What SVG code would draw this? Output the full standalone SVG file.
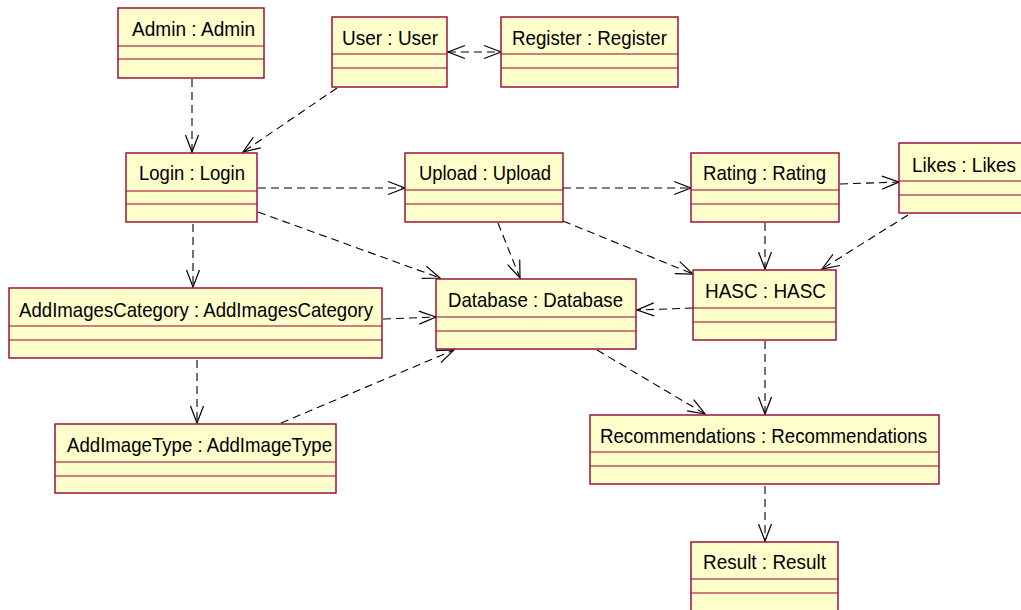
<svg xmlns="http://www.w3.org/2000/svg" width="1021" height="610" viewBox="0 0 1021 610">
<style>
.box{fill:#FFFFCC;stroke:#990033;stroke-width:1.4}
.div{stroke:#990033;stroke-width:1.2}
.t{font-family:"Liberation Sans",Arial,sans-serif;font-size:21px;fill:#000}
.c{fill:none;stroke:#000;stroke-width:1.1;stroke-dasharray:8 5}
</style>
<defs>
<marker id="arr" markerUnits="userSpaceOnUse" markerWidth="22" markerHeight="18" viewBox="-19 -9 22 18" refX="0" refY="0" orient="auto-start-reverse">
<path d="M-17,-6.5 L0,0 L-17,6.5" fill="none" stroke="#000" stroke-width="1.2"/>
</marker>
</defs>
<rect width="1021" height="610" fill="#fff"/>
<g id="connectors">
<path class="c" d="M192,79 L192,152" marker-end="url(#arr)"/>
<path class="c" d="M337,88 L243,152" marker-end="url(#arr)"/>
<path class="c" d="M448,52 L501,52" marker-start="url(#arr)" marker-end="url(#arr)"/>
<path class="c" d="M258,188 L405,188" marker-end="url(#arr)"/>
<path class="c" d="M258,212 L440,278" marker-end="url(#arr)"/>
<path class="c" d="M193,224 L193,287" marker-end="url(#arr)"/>
<path class="c" d="M563,188 L691,188" marker-end="url(#arr)"/>
<path class="c" d="M498,223 L520,278" marker-end="url(#arr)"/>
<path class="c" d="M563,221 L693,274" marker-end="url(#arr)"/>
<path class="c" d="M840,184 L899,182" marker-end="url(#arr)"/>
<path class="c" d="M765,223 L765,269" marker-end="url(#arr)"/>
<path class="c" d="M908,215 L822,269" marker-end="url(#arr)"/>
<path class="c" d="M693,308 L637,310" marker-end="url(#arr)"/>
<path class="c" d="M383,319 L436,317" marker-end="url(#arr)"/>
<path class="c" d="M281,423 L454,350" marker-end="url(#arr)"/>
<path class="c" d="M197,360 L197,423" marker-end="url(#arr)"/>
<path class="c" d="M597,350 L705,414" marker-end="url(#arr)"/>
<path class="c" d="M765,341 L765,414" marker-end="url(#arr)"/>
<path class="c" d="M765,486 L765,541" marker-end="url(#arr)"/>
</g>
<g id="admin">
<rect class="box" x="118" y="8" width="146" height="70"/>
<line class="div" x1="118" y1="46" x2="264" y2="46"/><line class="div" x1="118" y1="59" x2="264" y2="59"/>
<text class="t" x="132" y="36" textLength="123" lengthAdjust="spacingAndGlyphs">Admin : Admin</text>
</g>
<g id="user">
<rect class="box" x="332" y="17" width="115" height="70"/>
<line class="div" x1="332" y1="54" x2="447" y2="54"/><line class="div" x1="332" y1="68" x2="447" y2="68"/>
<text class="t" x="342" y="45" textLength="96" lengthAdjust="spacingAndGlyphs">User : User</text>
</g>
<g id="register">
<rect class="box" x="501" y="17" width="177" height="70"/>
<line class="div" x1="501" y1="54" x2="678" y2="54"/><line class="div" x1="501" y1="68" x2="678" y2="68"/>
<text class="t" x="512" y="45" textLength="155" lengthAdjust="spacingAndGlyphs">Register : Register</text>
</g>
<g id="login">
<rect class="box" x="126" y="153" width="131" height="69"/>
<line class="div" x1="126" y1="191" x2="257" y2="191"/><line class="div" x1="126" y1="204" x2="257" y2="204"/>
<text class="t" x="139" y="180" textLength="106" lengthAdjust="spacingAndGlyphs">Login : Login</text>
</g>
<g id="upload">
<rect class="box" x="405" y="153" width="158" height="69"/>
<line class="div" x1="405" y1="190" x2="563" y2="190"/><line class="div" x1="405" y1="204" x2="563" y2="204"/>
<text class="t" x="419" y="180" textLength="132" lengthAdjust="spacingAndGlyphs">Upload : Upload</text>
</g>
<g id="rating">
<rect class="box" x="691" y="153" width="148" height="69"/>
<line class="div" x1="691" y1="190" x2="839" y2="190"/><line class="div" x1="691" y1="204" x2="839" y2="204"/>
<text class="t" x="703" y="180" textLength="123" lengthAdjust="spacingAndGlyphs">Rating : Rating</text>
</g>
<g id="likes">
<rect class="box" x="899" y="143" width="130" height="70"/>
<line class="div" x1="899" y1="181" x2="1029" y2="181"/><line class="div" x1="899" y1="195" x2="1029" y2="195"/>
<text class="t" x="912" y="172" textLength="104" lengthAdjust="spacingAndGlyphs">Likes : Likes</text>
</g>
<g id="database">
<rect class="box" x="436" y="279" width="200" height="70"/>
<line class="div" x1="436" y1="317" x2="636" y2="317"/><line class="div" x1="436" y1="331" x2="636" y2="331"/>
<text class="t" x="448" y="307" textLength="175" lengthAdjust="spacingAndGlyphs">Database : Database</text>
</g>
<g id="hasc">
<rect class="box" x="693" y="270" width="143" height="70"/>
<line class="div" x1="693" y1="308" x2="836" y2="308"/><line class="div" x1="693" y1="322" x2="836" y2="322"/>
<text class="t" x="705" y="298" textLength="121" lengthAdjust="spacingAndGlyphs">HASC : HASC</text>
</g>
<g id="addimagescategory">
<rect class="box" x="9" y="288" width="373" height="70"/>
<line class="div" x1="9" y1="326" x2="382" y2="326"/><line class="div" x1="9" y1="340" x2="382" y2="340"/>
<text class="t" x="19" y="317" textLength="354" lengthAdjust="spacingAndGlyphs">AddImagesCategory : AddImagesCategory</text>
</g>
<g id="addimagetype">
<rect class="box" x="55" y="424" width="281" height="69"/>
<line class="div" x1="55" y1="462" x2="336" y2="462"/><line class="div" x1="55" y1="476" x2="336" y2="476"/>
<text class="t" x="67" y="452" textLength="265" lengthAdjust="spacingAndGlyphs">AddImageType : AddImageType</text>
</g>
<g id="recommendations">
<rect class="box" x="590" y="415" width="349" height="69"/>
<line class="div" x1="590" y1="452" x2="939" y2="452"/><line class="div" x1="590" y1="466" x2="939" y2="466"/>
<text class="t" x="600" y="443" textLength="327" lengthAdjust="spacingAndGlyphs">Recommendations : Recommendations</text>
</g>
<g id="result">
<rect class="box" x="691" y="542" width="147" height="72"/>
<line class="div" x1="691" y1="579" x2="838" y2="579"/><line class="div" x1="691" y1="593" x2="838" y2="593"/>
<text class="t" x="703" y="569" textLength="123" lengthAdjust="spacingAndGlyphs">Result : Result</text>
</g>
</svg>
